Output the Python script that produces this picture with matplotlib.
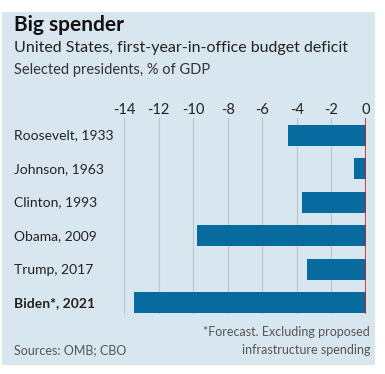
import numpy as np
import matplotlib.pyplot as plt
from matplotlib.patches import Rectangle

# data
presidents = ["Roosevelt, 1933", "Johnson, 1963", "Clinton, 1993",
              "Obama, 2009", "Trump, 2017", "Biden*, 2021"]
deficit = [-4.5, -0.7, -3.7, -9.8, -3.4, -13.4]
ticks = [-14, -12, -10, -8, -6, -4, -2, 0]

bg = "#d8e6ef"
bar_col = "#076ba0"
red = "#e3120b"
font = "Lato"

fig = plt.figure(figsize=(3.85, 3.74), dpi=100)
fig.patch.set_facecolor("white")
W, H = 385, 374

# background panel
fig.patches.append(Rectangle((2 / W, 1 - 365 / H), 373 / W, 353 / H,
                             transform=fig.transFigure, facecolor=bg,
                             edgecolor="none", zorder=-5))

ax = fig.add_axes([124 / W, 1 - 314 / H, 242 / W, 196 / H])
ax.set_facecolor("none")
ax.set_zorder(2)
y = np.arange(len(presidents))
ax.barh(y, deficit, height=0.63, color=bar_col, zorder=3)
ax.set_xlim(-14, 0)
ax.set_ylim(5.33, -0.52)
ax.axvline(0, color=red, lw=1.2, zorder=4)
for t in ticks[:-1]:
    ax.axvline(t, color="#b9c4cb", lw=0.8, zorder=1)
ax.set_xticks(ticks)
ax.set_xticklabels([str(t) for t in ticks], family=font, fontsize=10.5, color="#222222")
ax.xaxis.tick_top()
ax.tick_params(axis="x", length=0, pad=1)
ax.set_yticks([])
for s in ax.spines.values():
    s.set_visible(False)

for i, name in enumerate(presidents):
    fig.text(14 / W, 1 - (135.5 + 33.5 * i) / H, name, family=font,
             fontsize=10, color="#222222", va="center", ha="left",
             fontweight="bold" if i == len(presidents) - 1 else "normal")

fig.text(14 / W, 1 - 25 / H, "Big spender", family=font, fontsize=15,
         fontweight="bold", color="#111111", va="center")
fig.text(14 / W, 1 - 48 / H, "United States, first-year-in-office budget deficit",
         family=font, fontsize=11.5, color="#222222", va="center")
fig.text(14 / W, 1 - 70 / H, "Selected presidents, % of GDP", family=font,
         fontsize=10.5, color="#333333", va="center")

fig.text(14 / W, 1 - 350 / H, "Sources: OMB; CBO", family=font, fontsize=9,
         color="#555555", va="center")
fig.text(370 / W, 1 - 332 / H, "*Forecast. Excluding proposed", family=font,
         fontsize=9, color="#555555", va="center", ha="right")
fig.text(370 / W, 1 - 350 / H, "infrastructure spending", family=font,
         fontsize=9, color="#555555", va="center", ha="right")

fig.savefig("out.png", dpi=100)
